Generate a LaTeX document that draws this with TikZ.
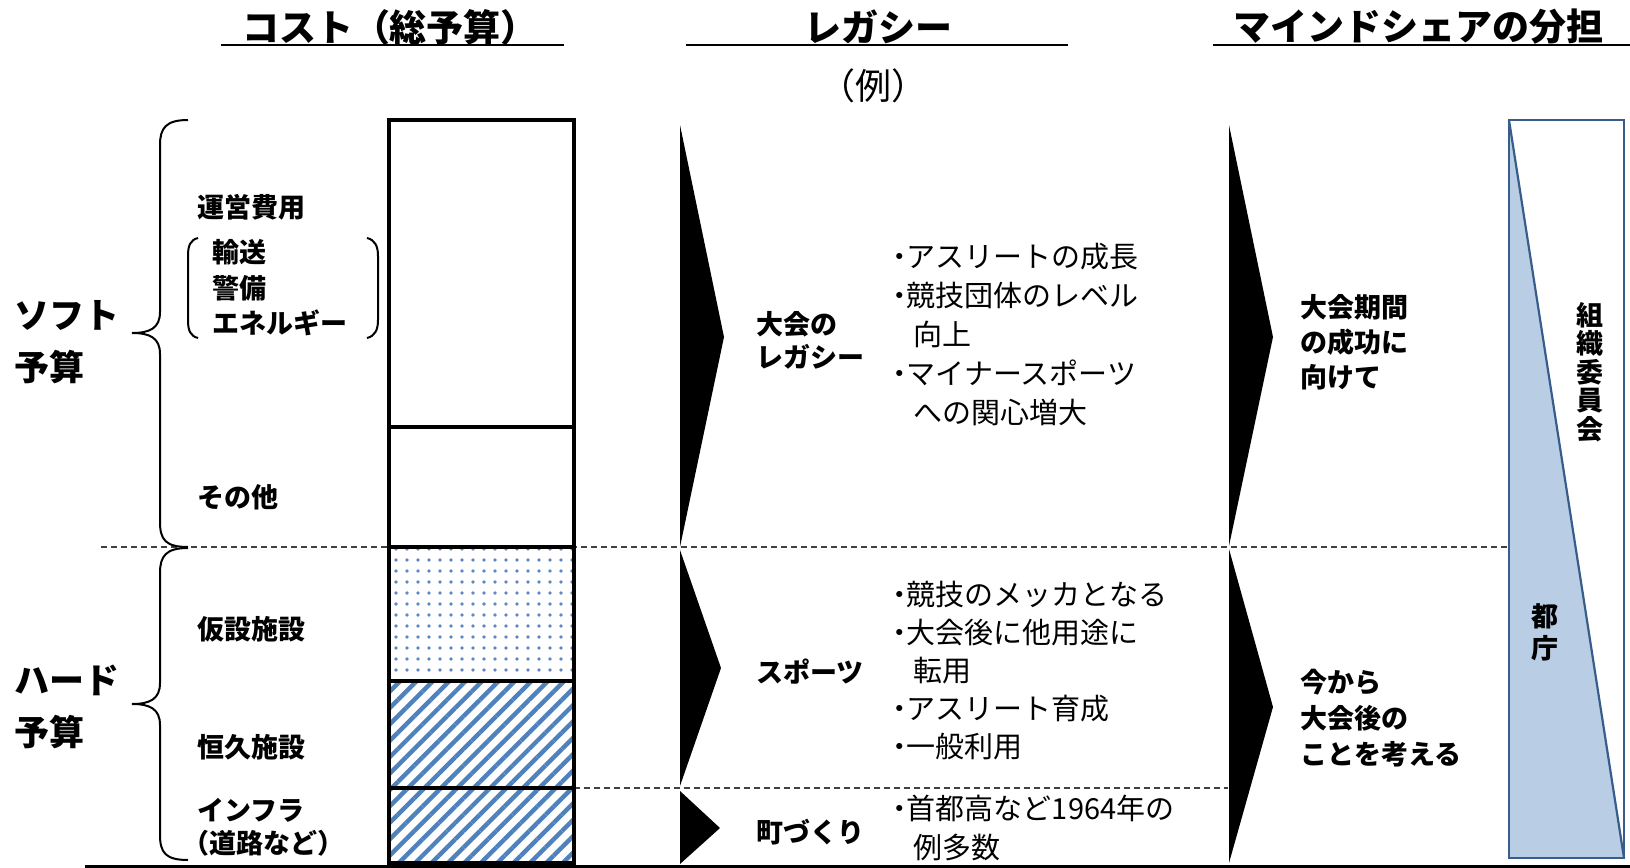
\documentclass[tikz,border=0pt]{standalone}
\usepackage{fontspec}
\setmainfont{Noto Sans CJK JP}
\usetikzlibrary{patterns.meta}
\definecolor{hatchblue}{RGB}{79,129,189}
\definecolor{dotblue}{RGB}{95,135,200}
\definecolor{wedgefill}{RGB}{185,205,229}
\definecolor{wedgeline}{RGB}{56,93,138}
\definecolor{dashgray}{RGB}{64,64,64}
\newcommand{\bdot}{\textbf{･}}
\begin{document}
\begin{tikzpicture}[x=0.5pt,y=-0.5pt,
  hdr/.style={font=\fontsize{18.5}{22}\selectfont\bfseries, inner sep=0},
  big/.style={font=\fontsize{17.5}{26}\selectfont\bfseries, align=left, anchor=west, inner sep=0},
  lab/.style={font=\fontsize{13.5}{17.5}\selectfont\bfseries, align=left, anchor=west, inner sep=0},
  bul/.style={font=\fontsize{14.5}{19.5}\selectfont, align=left, anchor=west, inner sep=0},
  barbox/.style={draw=black, line width=1.75pt},
  sepline/.style={draw=dashgray, line width=0.7pt, dash pattern=on 3pt off 2pt},
  brace/.style={draw=black, line width=1pt},
  uline/.style={draw=black, line width=1pt}
]
\useasboundingbox (0,0) rectangle (1630,868);

% separators
\draw[sepline] (101,547) -- (1507,547);
\draw[sepline] (574,788) -- (1228,788);

% headers
\node[hdr] (h1) at (390,27) {コスト（総予算）};
\node[hdr] (h2) at (878,27) {レガシー};
\node[hdr] (h3) at (1418,27) {マインドシェアの分担};
\node[font=\fontsize{18}{22}\selectfont, inner sep=0] (ex) at (873,86) {（例）};
\draw[uline] (221,45) -- (564,45);
\draw[uline] (686,45) -- (1068,45);
\draw[uline] (1213,45) -- (1630,45);

% braces
\draw[brace] (188,120) .. controls (166,120) and (160,128) .. (160,145) -- (160,312)
  .. controls (160,328) and (150,333) .. (132,333)
  .. controls (150,333) and (160,338) .. (160,354) -- (160,522)
  .. controls (160,540) and (166,547) .. (188,547);
\draw[brace] (188,548) .. controls (166,548) and (160,556) .. (160,573) -- (160,683)
  .. controls (160,699) and (150,704) .. (132,704)
  .. controls (150,704) and (160,709) .. (160,725) -- (160,835)
  .. controls (160,853) and (166,860) .. (188,860);
% small parentheses
\draw[brace] (198,238) .. controls (190,240) and (188,246) .. (188,256) -- (188,320)
  .. controls (188,330) and (190,336) .. (198,338);
\draw[brace] (367,238) .. controls (375,240) and (378,246) .. (378,256) -- (378,320)
  .. controls (378,330) and (375,336) .. (367,338);

% left labels
\node[big] (soft) at (14,342) {ソフト\\予算};
\node[big] (hard) at (14,707) {ハード\\予算};
\node[lab] (unei) at (197,207) {運営費用};
\node[lab, font=\fontsize{13.5}{17.75}\selectfont\bfseries] (yuso) at (212,288) {輸送\\警備\\エネルギー};
\node[lab] (sonota) at (197,497) {その他};
\node[lab] (kasetsu) at (197,629) {仮設施設};
\node[lab] (kokyu) at (197,747) {恒久施設};
\node[lab, font=\fontsize{13.5}{16.5}\selectfont\bfseries] (infra) at (197,827.5) {インフラ\\\hspace*{-0.55em}（道路など）};

% bar
\path[fill=white] (389,120) rectangle (574,863);
\path[pattern={Dots[radius=0.95pt,distance=5.5pt]}, pattern color=dotblue] (389,547) rectangle (574,681);
\path[pattern={Lines[angle=45,distance=5.8pt,line width=2.2pt]}, pattern color=hatchblue] (389,681) rectangle (574,863);
\draw[barbox] (389,120) rectangle (574,427);
\draw[barbox] (389,427) rectangle (574,547);
\draw[barbox] (389,547) rectangle (574,681);
\draw[barbox] (389,681) rectangle (574,788);
\draw[barbox] (389,788) rectangle (574,863);

% bottom line
\draw[line width=1.5pt] (85,866) -- (1630,866);

% triangles
\fill (680,125) -- (724,337) -- (680,547) -- cycle;
\fill (680,550) -- (721,668) -- (680,786) -- cycle;
\fill (680,791) -- (720,828) -- (680,864) -- cycle;
\fill (1229,125) -- (1273,337) -- (1229,546) -- cycle;
\fill (1229,549) -- (1273,707) -- (1229,863) -- cycle;

% legacy labels
\node[lab, font=\fontsize{13.5}{16.5}\selectfont\bfseries] (taikai) at (756,340) {大会の\\レガシー};
\node[lab] (sports) at (756,672) {スポーツ};
\node[lab] (machi) at (756,832) {町づくり};

\node[bul, font=\fontsize{14.5}{19.6}\selectfont] (b1) at (892,334.5)
  {\bdot アスリートの成長\\\bdot 競技団体のレベル\\\hspace*{0.72em}向上\\\bdot マイナースポーツ\\\hspace*{0.72em}への関心増大};
\node[bul, font=\fontsize{14.5}{18.9}\selectfont] (b2) at (892,670.5)
  {\bdot 競技のメッカとなる\\\bdot 大会後に他用途に\\\hspace*{0.72em}転用\\\bdot アスリート育成\\\bdot 一般利用};
\node[bul] (b3) at (892,827.5) {\bdot 首都高など1964年の\\\hspace*{0.72em}例多数};

% mindshare labels
\node[lab] (r1) at (1300,342) {大会期間\\の成功に\\向けて};
\node[lab, font=\fontsize{13.5}{18}\selectfont\bfseries] (r2) at (1300,718) {今から\\大会後の\\ことを考える};

% wedge
\fill[wedgefill] (1509,120) -- (1624,858) -- (1509,858) -- cycle;
\draw[wedgeline, line width=1.1pt] (1509,120) rectangle (1624,858);
\draw[wedgeline, line width=1.1pt] (1509,120) -- (1624,858);
\node[lab, anchor=center, align=center, font=\fontsize{13.5}{14.3}\selectfont\bfseries] (soshiki) at (1590,372) {組\\織\\委\\員\\会};
\node[lab, anchor=center, align=center, font=\fontsize{13.5}{16}\selectfont\bfseries] (tocho) at (1545,632) {都\\庁};
\end{tikzpicture}
\end{document}
